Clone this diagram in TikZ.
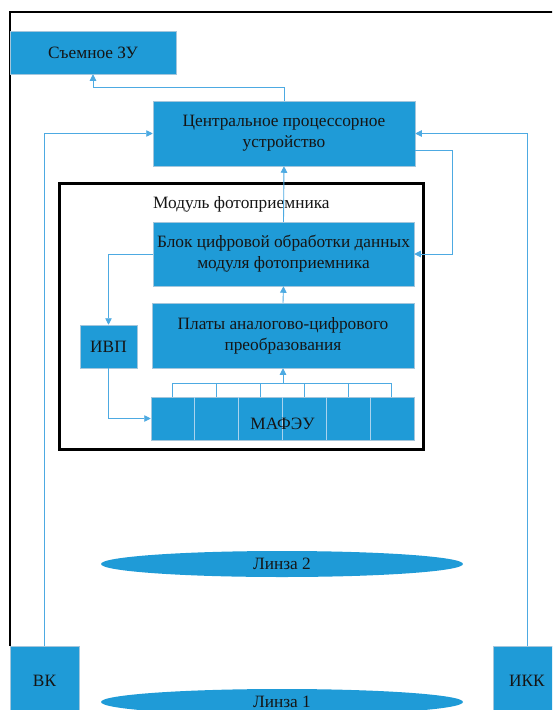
\documentclass[tikz,border=0pt]{standalone}
\usepackage{fontspec}
\setmainfont{Liberation Serif}
\usetikzlibrary{arrows.meta,shapes.geometric,calc}
\definecolor{boxblue}{HTML}{1F9BD7}
\definecolor{lineblue}{HTML}{4DAAE2}
\definecolor{edgegray}{HTML}{A3C6DC}
\definecolor{textdark}{HTML}{151515}
\definecolor{segline}{HTML}{A9D3EE}
\begin{document}
\begin{tikzpicture}[x=1pt,y=-1pt,
  blockbox/.style={rectangle, fill=boxblue, draw=edgegray, line width=0.5pt, inner sep=0pt,
    text=textdark, align=center, font=\fontsize{17.3}{21}\selectfont},
  lensbox/.style={ellipse, fill=boxblue, draw=none, inner sep=0pt,
    text=textdark, font=\fontsize{17.3}{21}\selectfont},
  conn/.style={draw=lineblue, line width=0.9pt, -{Triangle[length=6.5pt,width=6.5pt]}},
  busline/.style={draw=lineblue, line width=0.9pt},
  modframe/.style={rectangle, draw=black, line width=3pt, fill=none, inner sep=0pt}
]
\useasboundingbox (0,0) rectangle (552,710);
\clip (0,0) rectangle (552,710);
\fill[white] (0,0) rectangle (552,710);

% outer frame
\draw[black, line width=2pt] (9.5,646) -- (9.5,12) -- (560,12);

% module frame
\node[modframe, minimum width=364pt, minimum height=266pt] (modul) at (241,316) {};
\node[anchor=west, text=textdark, font=\fontsize{17.3}{21}\selectfont, inner sep=0pt] (modlbl) at (153,204) {Модуль фотоприемника};

% blocks
\node[blockbox, minimum width=166pt, minimum height=43pt] (zu) at (93,52.5) {Съемное ЗУ};
\node[blockbox, minimum width=262pt, minimum height=65pt] (cpu) at (284,133.5) {Центральное процессорное\\устройство};
\node[blockbox, minimum width=261pt, minimum height=64pt] (blok) at (283.5,254) {Блок цифровой обработки данных\\модуля фотоприемника};
\node[blockbox, minimum width=262pt, minimum height=65pt] (plata) at (283,335.5) {Платы аналогово-цифрового\\преобразования};
\node[blockbox, minimum width=57pt, minimum height=43pt] (ivp) at (108.5,346.5) {ИВП};
\node[blockbox, minimum width=263pt, minimum height=43pt] (mafeu) at (282.5,418.5) {};
\foreach \k in {1,...,5} {
  \draw[segline, line width=0.8pt] ($(mafeu.north west)+(43.83*\k,0.5)$) -- ($(mafeu.south west)+(43.83*\k,-0.5)$);
}
\node[text=textdark, font=\fontsize{17.3}{21}\selectfont, inner sep=0pt] (mafeulbl) at (282.5,424) {МАФЭУ};

\node[blockbox, minimum width=69pt, minimum height=70pt] (vk) at (44.5,681) {ВК};
\node[blockbox, minimum width=68pt, minimum height=70pt] (ikk) at (527,681) {ИКК};

\node[lensbox, minimum width=362pt, minimum height=26pt] (lens2) at (282,564) {Линза 2};
\node[lensbox, minimum width=362pt, minimum height=26pt] (lens1) at (282,702) {Линза 1};

% connectors
\draw[conn] (cpu.north) -- ++(0,-13.5) -| (zu.south);
\draw[conn] (vk.north) |- (cpu.west);
\draw[conn] (ikk.north) |- (cpu.east);
\draw[conn] ([yshift=-16.5pt]cpu.east) -- ++(37,0) |- (blok.east);
\draw[conn] (blok.north) -- (cpu.south);
\draw[conn] (plata.north) -- (blok.south);
\draw[conn] (blok.west) -| (ivp.north);
\draw[conn] (ivp.south) |- (mafeu.west);

% bus
\foreach \k in {0,...,5} {
  \coordinate (t\k) at ($(mafeu.north west)+(21.9+43.83*\k,0)$);
  \draw[busline] (t\k) -- ++(0,-13);
}
\coordinate (busL) at ($(t0)+(0,-13)$);
\coordinate (busR) at ($(t5)+(0,-13)$);
\draw[busline] ([xshift=-0.45pt]busL) -- ([xshift=0.45pt]busR);
\coordinate (busM) at (plata.south |- busL);
\draw[conn] (busM) -- (plata.south);
\end{tikzpicture}
\end{document}
